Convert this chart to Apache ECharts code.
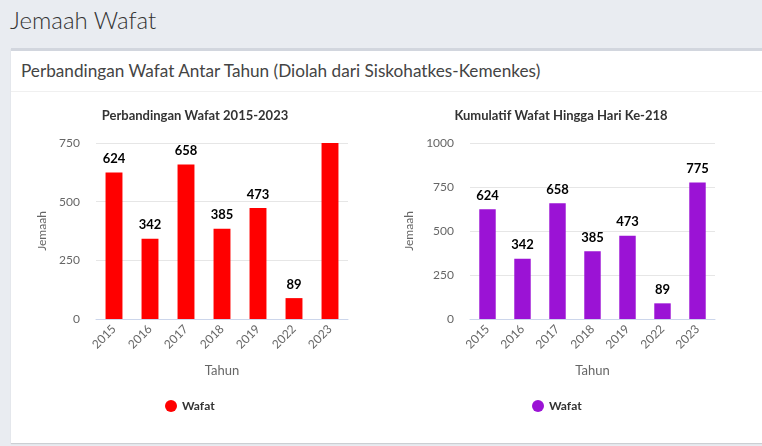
<!DOCTYPE html>
<html>
<head>
<meta charset="utf-8">
<script src="https://cdn.jsdelivr.net/npm/echarts@6/dist/echarts.min.js"></script>
<style>
  html, body { margin: 0; padding: 0; width: 762px; height: 446px; overflow: hidden; background: #e9ecf1; font-family: Lato, "Noto Sans", sans-serif; }
  .page-title { position: absolute; left: 10px; top: 5px; font-size: 24px; font-weight: 300; color: #333; }
  .card { position: absolute; left: 11px; top: 48px; width: 760px; height: 392px; background: #fff; border-top: 3px solid #d2d6de; box-shadow: 0 1px 1px rgba(0,0,0,0.12); }
  .card-header { height: 40px; line-height: 40px; padding-left: 10px; font-size: 17.2px; color: #444; border-bottom: 1px solid #f0f0f0; }
  #chartLeft, #chartRight { position: absolute; top: 0; width: 381px; height: 446px; }
  #chartLeft { left: 0; }
  #chartRight { left: 381px; }
</style>
</head>
<body>
<div class="page-title">Jemaah Wafat</div>
<div class="card">
  <div class="card-header">Perbandingan Wafat Antar Tahun (Diolah dari Siskohatkes-Kemenkes)</div>
</div>
<div id="chartLeft"></div>
<div id="chartRight"></div>
<script>
var years = ["2015", "2016", "2017", "2018", "2019", "2022", "2023"];
var wafatPerTahun = [624, 342, 658, 385, 473, 89, 775];
var wafatKumulatif = [624, 342, 658, 385, 473, 89, 775];
var leftTicks = { max: 750, interval: 250 };
var rightTicks = { max: 1000, interval: 250 };

function makeOption(cfg) {
  return {
    animation: false,
    title: {
      text: cfg.title,
      left: cfg.titleX,
      top: 104,
      textAlign: "center",
      textStyle: { fontFamily: "Lato", fontSize: 13, fontWeight: "bold", color: "#333" }
    },
    legend: {
      data: ["Wafat"],
      left: cfg.legendX,
      top: 395,
      icon: "circle",
      itemWidth: 12,
      itemHeight: 12,
      itemGap: 8,
      textStyle: { fontFamily: "Lato", fontSize: 12, fontWeight: "bold", color: "#333" }
    },
    grid: { left: cfg.gridLeft, width: cfg.gridWidth, top: 143, height: 176 },
    xAxis: {
      type: "category",
      data: years,
      name: "Tahun",
      nameLocation: "middle",
      nameGap: 45,
      nameTextStyle: { fontFamily: "Lato", fontSize: 13, color: "#666" },
      axisLine: { lineStyle: { color: "#ccd6eb" } },
      axisTick: { show: false },
      axisLabel: { rotate: 45, margin: 8, fontFamily: "Lato", fontSize: 12, color: "#666" }
    },
    yAxis: {
      type: "value",
      min: 0,
      max: cfg.ticks.max,
      interval: cfg.ticks.interval,
      name: "Jemaah",
      nameLocation: "middle",
      nameRotate: 90,
      nameGap: cfg.yNameGap,
      nameTextStyle: { fontFamily: "Lato", fontSize: 12, color: "#666" },
      axisLine: { show: false },
      axisTick: { show: false },
      splitLine: { lineStyle: { color: "#e6e6e6" } },
      axisLabel: {
        margin: 16, fontFamily: "Lato", fontSize: 12, color: "#666",
        formatter: function (v) { return String(v); }
      }
    },
    series: [{
      name: "Wafat",
      type: "bar",
      data: cfg.values,
      barWidth: "47%",
      clip: true,
      itemStyle: { color: cfg.color },
      label: {
        show: true,
        position: "top",
        distance: 7,
        fontFamily: "Lato",
        fontSize: 13,
        fontWeight: "bold",
        color: "#000",
        formatter: function (p) { return p.value > cfg.ticks.max ? "" : p.value; }
      }
    }]
  };
}

var left = echarts.init(document.getElementById("chartLeft"));
left.setOption(makeOption({
  title: "Perbandingan Wafat 2015-2023",
  titleX: 190, legendX: 160, gridLeft: 96, gridWidth: 252, yNameGap: 45,
  ticks: leftTicks, values: wafatPerTahun, color: "#ff0000"
}));

var right = echarts.init(document.getElementById("chartRight"));
right.setOption(makeOption({
  title: "Kumulatif Wafat Hingga Hari Ke-218",
  titleX: 175, legendX: 146, gridLeft: 89, gridWidth: 245, yNameGap: 49,
  ticks: rightTicks, values: wafatKumulatif, color: "#9b13d5"
}));
</script>
</body>
</html>
